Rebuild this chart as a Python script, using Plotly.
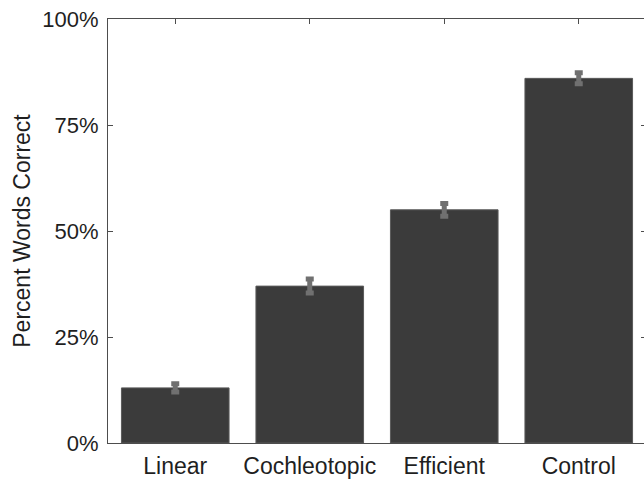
import plotly.graph_objects as go

categories = ["Linear", "Cochleotopic", "Efficient", "Control"]
percent_correct = [13.0, 37.0, 55.0, 86.0]
error_sem = [1.0, 1.65, 1.5, 1.3]
y_tick_values = [0, 25, 50, 75, 100]
y_tick_labels = ["0%", "25%", "50%", "75%", "100%"]

font_family = "Liberation Sans, Arial, Helvetica, sans-serif"

fig = go.Figure()
fig.add_trace(go.Bar(
    x=[1, 2, 3, 4],
    y=percent_correct,
    width=0.8,
    marker=dict(color="#3b3b3b", line=dict(color="#5a5a5a", width=1)),
    error_y=dict(type="data", array=error_sem, visible=True,
                 color="#707070", thickness=5, width=4),
    showlegend=False,
    hoverinfo="skip",
))

fig.update_layout(
    width=646, height=479,
    autosize=False,
    margin=dict(l=108, r=0, t=19, b=36, autoexpand=False),
    paper_bgcolor="white", plot_bgcolor="white",
    font=dict(family=font_family, color="#1f1f1f"),
    bargap=0.2,
    xaxis=dict(
        range=[0.5, 4.5],
        tickvals=[1, 2, 3, 4],
        ticktext=categories,
        tickfont=dict(size=23, color="#1f1f1f"),
        showline=True, linecolor="#4d4d4d", linewidth=1,
        mirror="ticks", ticks="inside", ticklen=5, tickcolor="#4d4d4d",
        showgrid=False, zeroline=False,
        automargin=False,
        ticklabelstandoff=2,
        layer="below traces",
    ),
    yaxis=dict(
        range=[0, 100],
        tickvals=y_tick_values,
        ticktext=y_tick_labels,
        tickfont=dict(size=22, color="#1f1f1f"),
        showline=True, linecolor="#4d4d4d", linewidth=1,
        mirror="ticks", ticks="inside", ticklen=5, tickcolor="#4d4d4d",
        showgrid=False, zeroline=False,
        automargin=False,
        ticklabelstandoff=4,
        title=dict(text="Percent Words Correct", font=dict(size=23, color="#1f1f1f"), standoff=5),
    ),
)

fig.write_html(
    "out.html",
    config={"displayModeBar": False},
    post_script="document.body.style.margin='0';document.body.style.overflow='hidden';",
)
